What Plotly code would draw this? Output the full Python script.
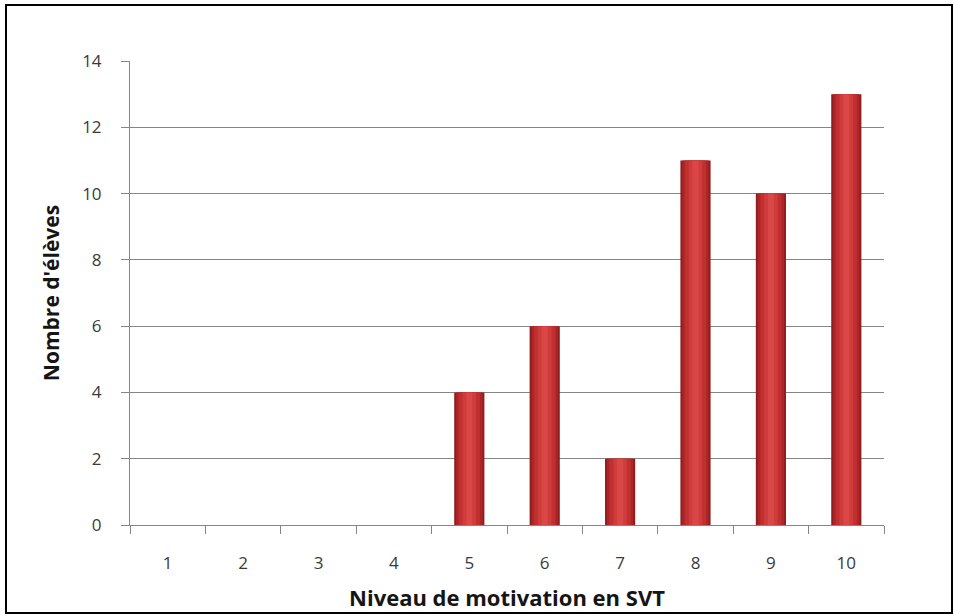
import plotly.graph_objects as go

categories = ["1", "2", "3", "4", "5", "6", "7", "8", "9", "10"]
counts = [0, 0, 0, 0, 4, 6, 2, 11, 10, 13]
y_ticks = [0, 2, 4, 6, 8, 10, 12, 14]

fig = go.Figure()

# simulated cylinder shading with overlaid bars of decreasing width
layers = [
    (0.40, "#921c1c"),
    (0.35, "#ab2626"),
    (0.28, "#c03030"),
    (0.18, "#d03b3b"),
    (0.08, "#da4747"),
]
for w, c in layers:
    fig.add_trace(go.Bar(
        x=categories, y=counts, width=w,
        marker=dict(color=c, line=dict(width=0)),
        hoverinfo="x+y", showlegend=False,
    ))

L, R, T, B = 130, 884, 61, 525
W, H = 954, 616
pw, ph = R - L, B - T

fig.update_layout(
    width=W, height=H,
    margin=dict(l=L, r=W - R, t=T, b=H - B, autoexpand=False),
    paper_bgcolor="white", plot_bgcolor="white",
    barmode="overlay",
    font=dict(family="'Open Sans', sans-serif", size=17, color="#3a3a3a"),
    xaxis=dict(
        type="category",
        tickson="boundaries",
        ticks="outside", ticklen=8, tickcolor="#868686", tickwidth=1,
        showline=True, linecolor="#868686", linewidth=1,
        showgrid=False,
        ticklabelstandoff=23,
        tickfont=dict(size=17, color="#3a3a3a"),
        title=dict(text="<b>Niveau de motivation en SVT</b>", standoff=17,
                   font=dict(size=22, color="#151515")),
    ),
    yaxis=dict(
        range=[0, 14], tickvals=y_ticks,
        ticks="outside", ticklen=8, tickcolor="#868686", tickwidth=1,
        showline=True, linecolor="#868686", linewidth=1,
        showgrid=True, gridcolor="#868686", gridwidth=1,
        zeroline=False,
        ticklabelstandoff=16,
        tickfont=dict(size=17, color="#3a3a3a"),
        title=dict(text="<b>Nombre d'élèves</b>", standoff=16,
                   font=dict(size=21, color="#151515")),
    ),
    shapes=[dict(type="rect", xref="paper", yref="paper",
                 x0=(6 - L) / pw, x1=(952 - L) / pw,
                 y0=-(613 - B) / ph, y1=1 + (T - 5) / ph,
                 line=dict(color="black", width=2), layer="below")],
)

fig.write_html("out.html", config={"displayModeBar": False},
               post_script="document.body.style.margin='0px';")
